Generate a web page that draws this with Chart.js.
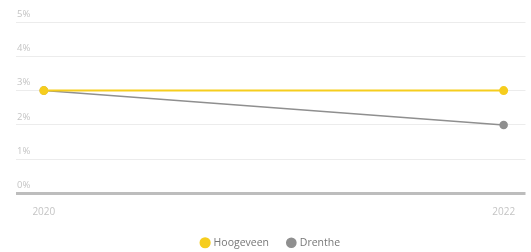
<!DOCTYPE html>
<html>
<head>
<meta charset="utf-8">
<script src="https://cdn.jsdelivr.net/npm/chart.js@4"></script>
<style>
  html, body { margin: 0; padding: 0; background: #fff; }
  #wrap { width: 531px; height: 252px; }
</style>
</head>
<body>
<div id="wrap"><canvas id="c"></canvas></div>
<script>
const years = [2020, 2022];
const hoogeveen = [3, 3];
const drenthe = [3, 2];
const yTicks = [0, 1, 2, 3, 4, 5];

const toPoints = vals => years.map((y, i) => ({ x: y, y: vals[i] }));

new Chart(document.getElementById('c'), {
  type: 'line',
  data: {
    datasets: [
      {
        label: 'Hoogeveen',
        data: toPoints(hoogeveen),
        borderColor: '#f6cd1e',
        backgroundColor: '#f6cd1e',
        borderWidth: 2,
        pointRadius: 3.5,
        pointHoverRadius: 3.5
      },
      {
        label: 'Drenthe',
        data: toPoints(drenthe),
        borderColor: '#8f8f8f',
        backgroundColor: '#8f8f8f',
        borderWidth: 1.5,
        pointRadius: 3.5,
        pointHoverRadius: 3.5
      }
    ]
  },
  options: {
    responsive: true,
    maintainAspectRatio: false,
    animation: false,
    // negative bottom padding pulls the wide-spaced legend down to the edge
    layout: { padding: { left: 14, right: 3, top: 22, bottom: -6 } },
    plugins: {
      tooltip: { enabled: false },
      legend: {
        position: 'bottom',
        labels: {
          usePointStyle: true,
          pointStyle: 'circle',
          boxWidth: 6.5,
          boxHeight: 6.5,
          padding: 19,
          color: '#777',
          font: { family: 'Open Sans', size: 10.5 }
        }
      }
    },
    scales: {
      x: {
        type: 'linear',
        min: 2019.879,
        max: 2022.095,
        afterBuildTicks: axis => { axis.ticks = years.map(v => ({ value: v })); },
        afterFit: axis => { axis.height -= 5; },
        grid: { display: false },
        border: { display: false },
        ticks: {
          color: '#c4c4c4',
          font: { family: 'Open Sans', size: 10 },
          padding: 5,
          callback: v => String(v)
        }
      },
      y: {
        min: 0,
        max: 5,
        afterBuildTicks: axis => { axis.ticks = yTicks.map(v => ({ value: v })); },
        border: { display: false },
        grid: {
          color: c => c.tick && c.tick.value === 0 ? '#bdbdbd' : '#ececec',
          lineWidth: c => c.tick && c.tick.value === 0 ? 3 : 1,
          drawTicks: false
        },
        ticks: {
          mirror: true,
          padding: 1,
          labelOffset: -8,
          color: '#c4c4c4',
          font: { family: 'Open Sans', size: 9.5 },
          callback: v => v + '%'
        }
      }
    }
  }
});
</script>
</body>
</html>
